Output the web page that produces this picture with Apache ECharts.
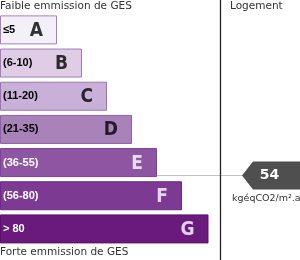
<!DOCTYPE html>
<html>
<head>
<meta charset="utf-8">
<script src="https://cdn.jsdelivr.net/npm/echarts@6/dist/echarts.min.js"></script>
<style>html,body{margin:0;padding:0;background:#fff}#c{width:300px;height:260px}</style>
</head>
<body>
<div id="c"></div>
<script>
// ---- data ----
const classes = ['A', 'B', 'C', 'D', 'E', 'F', 'G'];
const rangeLabels = ['≤5', '(6-10)', '(11-20)', '(21-35)', '(36-55)', '(56-80)', '> 80'];
const classMin = [0, 6, 11, 21, 36, 56, 81];
const classMax = [5, 10, 20, 35, 55, 80, 120];
const barLengths = [57, 82, 107, 132, 157, 182, 208.5]; // on a 0–300 axis
const ghgValue = 54;
const ghgClass = 'E';
const unitLabel = 'kgéqCO2/m².an';
const topText = 'Faible emmission de GES';
const bottomText = 'Forte emmission de GES';
const panelTitle = 'Logement';

// ---- styles ----
const fills = ['#f4f0f8', '#dfcde6', '#c8b0d8', '#a882b8', '#8e55a3', '#7c3a92', '#6a1a7c'];
const borders = ['#a47fc0', '#a07cb9', '#9b72b4', '#8c5ea4', '#7d4296', '#6c2a86', '#5b0f70'];
const textCols = ['#000', '#000', '#000', '#000', '#fff', '#fff', '#fff'];

const chart = echarts.init(document.getElementById('c'), null, { renderer: 'canvas' });

const barData = barLengths.map((v, i) => ({
  value: v,
  itemStyle: { color: fills[i], borderColor: borders[i], borderWidth: 1 },
  label: { color: textCols[i] }
}));
const letterData = barLengths.map((v, i) => ({
  value: [v, classes[i]],
  label: { color: textCols[i] }
}));

const ci = classes.indexOf(ghgClass);

chart.setOption({
  animation: false,
  grid: { left: 0, right: 0, top: 13.3, height: 232.2 },
  xAxis: { type: 'value', min: 0, max: 300, show: false },
  yAxis: { type: 'category', data: classes, inverse: true, show: false },
  series: [
    {
      type: 'custom',
      z: 1,
      data: [[ghgValue, ghgClass]],
      renderItem: function (params, api) {
        const c = api.coord([0, api.value(1)]);
        const frac = (api.value(0) - classMin[ci]) / (classMax[ci] - classMin[ci]);
        const y = Math.round(c[1] + (frac - 0.5) * 28) + 0.5;
        const W = api.getWidth();
        const tip = 242, sh = 253, h = 14;
        return {
          type: 'group',
          children: [
            { type: 'line', shape: { x1: 0, y1: y, x2: tip, y2: y }, style: { stroke: '#c4c4c4', lineWidth: 1 } },
            { type: 'polygon', shape: { points: [[tip, y], [sh, y - h], [W, y - h], [W, y + h], [sh, y + h]] }, style: { fill: '#4f4f4f' } },
            { type: 'text', style: { text: String(api.value(0)), x: 269.5, y: y, align: 'center', verticalAlign: 'middle', fill: '#fff', font: 'bold 14px "DejaVu Sans"' } },
            { type: 'text', style: { text: unitLabel, x: 232, y: y + 23.5, align: 'left', verticalAlign: 'middle', fill: '#333', font: '9.5px "DejaVu Sans"' } }
          ]
        };
      }
    },
    {
      type: 'bar',
      z: 2,
      barWidth: 29,
      data: barData,
      label: {
        show: true,
        position: 'insideLeft',
        distance: 3,
        formatter: p => rangeLabels[p.dataIndex],
        fontFamily: 'Liberation Sans',
        fontWeight: 'bold',
        fontSize: 11,
        textBorderWidth: 0,
        textBorderColor: 'transparent'
      }
    },
    {
      type: 'scatter',
      z: 3,
      symbolSize: 1,
      itemStyle: { color: 'rgba(0,0,0,0)' },
      data: letterData,
      label: {
        show: true,
        position: 'left',
        distance: 13.5,
        offset: [0, 1],
        formatter: p => p.value[1],
        fontFamily: 'DejaVu Sans Condensed',
        fontWeight: 'bold',
        fontSize: 19,
        textBorderWidth: 0,
        textBorderColor: 'transparent'
      }
    }
  ],
  graphic: [
    { type: 'line', z: 10, shape: { x1: 220.5, y1: 0, x2: 220.5, y2: 260 }, style: { stroke: '#222', lineWidth: 1.3 } },
    { type: 'text', z: 10, left: 0, top: 1, style: { text: topText, fill: '#333', font: '10.5px "DejaVu Sans"' } },
    { type: 'text', z: 10, left: 0, top: 247, style: { text: bottomText, fill: '#333', font: '10.5px "DejaVu Sans"' } },
    { type: 'text', z: 10, left: 230, top: 1, style: { text: panelTitle, fill: '#333', font: '10.5px "DejaVu Sans"' } }
  ]
});
</script>
</body>
</html>
